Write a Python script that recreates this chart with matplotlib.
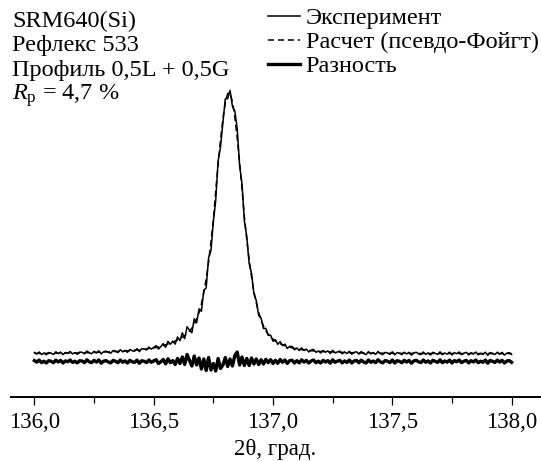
import numpy as np
import matplotlib
matplotlib.use('Agg')
import matplotlib.pyplot as plt
from matplotlib.ticker import MultipleLocator

plt.rcParams['font.family'] = ['Liberation Serif', 'DejaVu Serif']
plt.rcParams['mathtext.fontset'] = 'custom'
plt.rcParams['mathtext.rm'] = 'Liberation Serif'
plt.rcParams['mathtext.it'] = 'Liberation Serif:italic'

# 2theta scan grid, 136.00 ... 138.00 step 0.01
two_theta = np.linspace(136.0, 138.0, 201)

experiment = [
    10.5, 9.0, 11.0, 8.5, 10.0, 8.2, 10.5, 9.9, 8.5, 11.2,
    9.3, 10.9, 8.4, 10.5, 9.8, 11.5, 9.1, 10.4, 8.7, 11.0,
    10.7, 9.1, 12.0, 10.1, 9.3, 11.7, 10.0, 12.2, 9.1, 11.2,
    11.9, 10.6, 9.8, 12.5, 11.8, 10.4, 13.3, 11.1, 12.6, 10.7,
    13.5, 12.2, 11.8, 14.3, 11.4, 14.3, 14.0, 13.0, 15.9, 13.9,
    15.6, 17.3, 14.0, 16.3, 19.4, 15.7, 21.7, 18.7, 21.8, 18.9,
    26.0, 22.3, 30.2, 24.4, 36.3, 32.8, 30.3, 44.3, 40.3, 54.0,
    51.7, 72.8, 75.0, 105.0, 112.4, 141.1, 162.5, 202.0, 216.0, 240.5,
    264.0, 264.4, 272.6, 256.7, 252.0, 234.5, 197.5, 179.5, 142.3, 126.7,
    99.5, 89.7, 69.2, 62.4, 47.6, 45.0, 34.5, 34.6, 27.6, 27.8,
    21.8, 23.2, 18.7, 21.3, 17.4, 18.8, 14.6, 16.7, 16.5, 13.2,
    15.0, 12.4, 15.1, 12.5, 13.9, 11.0, 12.8, 13.6, 10.7, 12.0,
    10.0, 12.6, 10.8, 12.1, 9.4, 12.7, 10.1, 11.1, 11.9, 9.2,
    11.1, 9.5, 11.8, 8.8, 10.7, 11.2, 8.9, 11.4, 9.5, 8.4,
    11.4, 9.1, 10.4, 8.6, 11.5, 9.5, 8.4, 10.6, 10.0, 8.6,
    11.2, 8.2, 10.4, 9.8, 8.4, 10.8, 9.0, 10.7, 7.9, 10.1,
    10.7, 9.2, 8.4, 11.0, 8.7, 10.1, 8.0, 10.7, 9.7, 8.6,
    11.2, 8.3, 10.0, 8.9, 10.9, 8.0, 10.4, 9.3, 11.0, 8.4,
    9.7, 10.7, 8.1, 10.3, 9.0, 10.9, 8.2, 9.7, 8.6, 10.8,
    7.7, 10.5, 9.6, 8.5, 10.8, 8.8, 10.6, 7.9, 9.9, 10.3,
    8.6,
]

calculated = [
    9.6, 9.6, 9.6, 9.6, 9.7, 9.7, 9.7, 9.7, 9.7, 9.8,
    9.8, 9.8, 9.9, 9.9, 10.0, 10.0, 10.0, 10.1, 10.1, 10.2,
    10.2, 10.3, 10.3, 10.4, 10.4, 10.5, 10.6, 10.7, 10.8, 10.9,
    11.0, 11.1, 11.2, 11.4, 11.5, 11.6, 11.8, 11.9, 12.0, 12.2,
    12.3, 12.5, 12.7, 12.9, 13.2, 13.5, 13.8, 14.1, 14.4, 14.7,
    15.0, 15.5, 16.0, 16.6, 17.3, 18.1, 19.0, 19.9, 20.9, 21.9,
    23.0, 24.3, 25.7, 27.4, 29.3, 31.8, 34.8, 38.8, 43.8, 50.5,
    59.2, 70.3, 84.0, 101.0, 120.9, 143.1, 172.0, 199.0, 223.0, 244.0,
    260.0, 269.4, 270.1, 261.2, 246.0, 225.0, 201.0, 175.0, 146.3, 123.7,
    103.5, 86.2, 71.7, 59.9, 50.6, 43.2, 37.0, 32.4, 28.8, 26.0,
    23.8, 22.0, 20.5, 19.3, 18.2, 17.3, 16.5, 15.8, 15.2, 14.7,
    14.2, 13.8, 13.4, 13.1, 12.8, 12.5, 12.3, 12.1, 11.9, 11.7,
    11.5, 11.4, 11.3, 11.2, 11.1, 11.0, 10.9, 10.8, 10.7, 10.6,
    10.5, 10.4, 10.3, 10.3, 10.2, 10.1, 10.1, 10.0, 10.0, 9.9,
    9.9, 9.9, 9.9, 9.8, 9.8, 9.8, 9.8, 9.7, 9.7, 9.7,
    9.7, 9.7, 9.6, 9.6, 9.6, 9.6, 9.6, 9.6, 9.6, 9.6,
    9.5, 9.5, 9.5, 9.5, 9.5, 9.5, 9.5, 9.5, 9.5, 9.5,
    9.5, 9.5, 9.5, 9.5, 9.5, 9.5, 9.5, 9.5, 9.5, 9.5,
    9.5, 9.5, 9.5, 9.5, 9.5, 9.4, 9.4, 9.4, 9.4, 9.4,
    9.4, 9.4, 9.4, 9.4, 9.4, 9.4, 9.4, 9.4, 9.4, 9.4,
    9.4,
]

difference = [
    2.4, 0.9, 2.9, 0.4, 1.8, 0.0, 2.3, 1.7, 0.3, 2.9,
    1.0, 2.6, 0.0, 2.1, 1.3, 3.0, 0.6, 1.8, 0.1, 2.3,
    2.0, 0.3, 3.2, 1.2, 0.4, 2.7, 0.9, 3.0, -0.2, 1.8,
    2.4, 1.0, 0.1, 2.6, 1.8, 0.3, 3.0, 0.7, 2.1, 0.0,
    2.7, 1.2, 0.6, 2.9, -0.3, 2.3, 1.7, 0.4, 3.0, 0.7,
    2.1, 3.3, -0.5, 1.2, 3.6, -0.9, 4.2, 0.3, 2.4, -1.5,
    4.5, -0.5, 6.0, -1.5, 8.5, 2.5, -3.0, 7.0, -2.0, 5.0,
    -6.0, 4.0, -7.5, 5.5, -7.0, -0.5, -8.0, 4.5, -5.5, -2.0,
    5.5, -3.5, 4.0, -3.0, 7.5, 11.0, -2.0, 6.0, -2.5, 4.5,
    -2.5, 5.0, -1.0, 4.0, -1.5, 3.3, -1.0, 3.7, 0.3, 3.3,
    -0.5, 2.7, -0.3, 3.5, 0.7, 3.0, -0.4, 2.4, 2.8, 0.0,
    2.3, 0.1, 3.2, 0.9, 2.6, 0.0, 2.0, 3.0, 0.3, 1.8,
    0.0, 2.7, 1.0, 2.4, -0.2, 3.2, 0.7, 1.8, 2.7, 0.1,
    2.1, 0.6, 3.0, 0.0, 2.0, 2.6, 0.3, 2.9, 1.0, 0.0,
    3.0, 0.7, 2.0, 0.3, 3.2, 1.2, 0.1, 2.4, 1.8, 0.4,
    3.0, 0.0, 2.3, 1.7, 0.3, 2.7, 0.9, 2.6, -0.2, 2.0,
    2.7, 1.2, 0.4, 3.0, 0.7, 2.1, 0.0, 2.7, 1.7, 0.6,
    3.2, 0.3, 2.0, 0.9, 2.9, 0.0, 2.4, 1.3, 3.0, 0.4,
    1.7, 2.7, 0.1, 2.3, 1.0, 3.0, 0.3, 1.8, 0.7, 2.9,
    -0.2, 2.6, 1.7, 0.6, 2.9, 0.9, 2.7, 0.0, 2.0, 2.4,
    0.7,
]

tick_values = [136.0, 136.5, 137.0, 137.5, 138.0]
tick_labels = ['136,0', '136,5', '137,0', '137,5', '138,0']
info_lines = ['SRM640(Si)', 'Рефлекс 533', 'Профиль 0,5L + 0,5G',
              r'$R_\mathrm{p}$ = 4,7 %']
legend_labels = ['Эксперимент', 'Расчет (псевдо-Фойгт)', 'Разность']
x_label = '2θ, град.'

W, H = 541, 461
fig = plt.figure(figsize=(W / 100, H / 100), dpi=100)
ax = fig.add_axes([11 / W, (H - 396.7) / H, 529 / W, (396.7 - 5) / H])

ax.plot(two_theta, experiment, color='black', lw=1.1, label=legend_labels[0])
ax.plot(two_theta, calculated, color='black', lw=1.1, dashes=(4, 2.5),
        label=legend_labels[1])
ax.plot(two_theta, difference, color='black', lw=2.4, label=legend_labels[2])

ax.set_xlim(135.902, 138.119)
ax.set_ylim(-33.7, 358)
for s in ['top', 'left', 'right']:
    ax.spines[s].set_visible(False)
ax.spines['bottom'].set_linewidth(1.4)
ax.set_yticks([])
ax.set_xticks(tick_values, tick_labels)
ax.xaxis.set_minor_locator(MultipleLocator(0.25))
ax.tick_params(axis='x', which='major', length=5.8, width=0.9,
               direction='out', labelsize=16.5, pad=5)
ax.tick_params(axis='x', which='minor', length=4.1, width=0.9,
               direction='out')
ax.set_xlabel(x_label, fontsize=16.5, labelpad=4.3)

for k, line in enumerate(info_lines):
    fig.text(12 / W, 1 - (27.3 + 24.2 * k) / H, line, fontsize=17.5,
             ha='left', va='baseline')

ax.legend(loc='upper left', bbox_to_anchor=(268 / W, 1 - 7 / H),
          bbox_transform=fig.transFigure, frameon=False, fontsize=17.5,
          handlelength=1.32, handletextpad=0.23, labelspacing=0.09,
          borderpad=0, borderaxespad=0)

fig.savefig('out.png', dpi=100)
